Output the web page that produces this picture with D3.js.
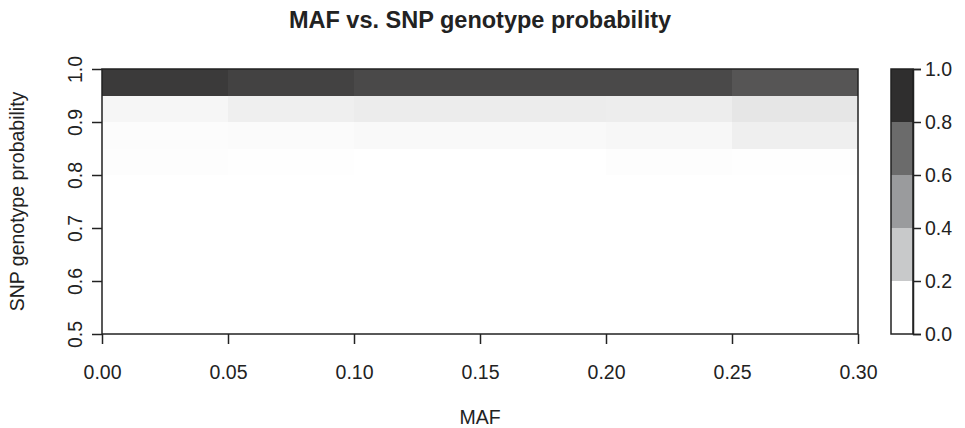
<!DOCTYPE html>
<html><head><meta charset="utf-8">
<script src="https://cdn.jsdelivr.net/npm/d3@7"></script>
<style>body{margin:0;background:#fff}svg{display:block;font-family:"Liberation Sans",Arial,sans-serif}</style>
</head><body><svg id="c" width="965" height="428"></svg>
<script>
const mafBins = [0.00, 0.05, 0.10, 0.15, 0.20, 0.25];
const probBins = [0.95, 0.90, 0.85, 0.80, 0.75, 0.70, 0.65, 0.60, 0.55, 0.50];
const cellValues = [
  [0.94, 0.90, 0.866, 0.866, 0.866, 0.81],
  [0.043, 0.077, 0.091, 0.091, 0.086, 0.12],
  [0.014, 0.019, 0.029, 0.029, 0.038, 0.077],
  [0.01, 0.005, 0.002, 0.002, 0.01, 0.005],
  [0,0,0,0,0,0],[0,0,0,0,0,0],[0,0,0,0,0,0],[0,0,0,0,0,0],[0,0,0,0,0,0],[0,0,0,0,0,0]
];
const xTicks = [0.00, 0.05, 0.10, 0.15, 0.20, 0.25, 0.30];
const yTicks = [0.5, 0.6, 0.7, 0.8, 0.9, 1.0];
const legendBreaks = [0.0, 0.2, 0.4, 0.6, 0.8, 1.0];
const legendColors = ["#ffffff", "#c8c9ca", "#9a9b9d", "#6b6b6b", "#2f2e2e"];

const FS = "19.5px";
const svg = d3.select("#c");
const L = 102, R = 858, T = 69, B = 334;
const x = d3.scaleLinear().domain([0, 0.3]).range([L, R]);
const y = d3.scaleLinear().domain([0.5, 1.0]).range([B, T]);
const col = d3.scaleLinear().domain([0, 1]).range(["#ffffff", "#2e2d2d"]).interpolate(d3.interpolateRgb);

const cells = [];
probBins.forEach((p, i) => mafBins.forEach((m, j) => cells.push({m, p, v: cellValues[i][j]})));
svg.append("g").selectAll("rect").data(cells).join("rect")
  .attr("x", d => x(d.m)).attr("y", d => y(d.p + 0.05))
  .attr("width", d => x(d.m + 0.05) - x(d.m)).attr("height", d => y(d.p) - y(d.p + 0.05))
  .attr("fill", d => col(d.v)).attr("shape-rendering", "crispEdges");

svg.append("rect").attr("x", L).attr("y", T).attr("width", R - L).attr("height", B - T)
  .attr("fill", "none").attr("stroke", "#222").attr("stroke-width", 1.5);

const fmt2 = d3.format(".2f"), fmt1 = d3.format(".1f");
const xa = svg.append("g").attr("transform", `translate(0,${B})`)
  .call(d3.axisBottom(x).tickValues(xTicks).tickFormat(fmt2).tickSize(10).tickPadding(0));
xa.select(".domain").remove();
xa.selectAll(".tick text").attr("y", 45).attr("dy", 0);
const ya = svg.append("g").attr("transform", `translate(${L},0)`)
  .call(d3.axisLeft(y).tickValues(yTicks).tickFormat(fmt1).tickSize(10).tickPadding(0));
ya.select(".domain").remove();
ya.selectAll(".tick text")
  .attr("x", 0).attr("y", 0).attr("dy", 0).attr("text-anchor", "middle")
  .attr("transform", `translate(${82 - L},0) rotate(-90)`);
[xa, ya].forEach(a => {
  a.selectAll("line").attr("stroke", "#222").attr("stroke-width", 1.5);
  a.selectAll("text").attr("fill", "#222").style("font-size", FS).style("font-family", "Liberation Sans, Arial, sans-serif");
});

// legend
const lx0 = 891, lx1 = 913;
const ly = d3.scaleLinear().domain([0, 1]).range([B, T]);
svg.append("g").selectAll("rect").data(legendColors).join("rect")
  .attr("x", lx0).attr("y", (d, i) => ly(legendBreaks[i + 1]))
  .attr("width", lx1 - lx0).attr("height", (d, i) => ly(legendBreaks[i]) - ly(legendBreaks[i + 1]))
  .attr("fill", d => d).attr("shape-rendering", "crispEdges");
svg.append("rect").attr("x", lx0).attr("y", T).attr("width", lx1 - lx0).attr("height", B - T)
  .attr("fill", "none").attr("stroke", "#222").attr("stroke-width", 1.5);
const la = svg.append("g").attr("transform", `translate(${lx1},0)`)
  .call(d3.axisRight(ly).tickValues(legendBreaks).tickFormat(fmt1).tickSize(8).tickPadding(4));
la.select(".domain").attr("stroke", "#222").attr("stroke-width", 1.5);
la.selectAll("line").attr("stroke", "#222").attr("stroke-width", 1.5);
la.selectAll("text").attr("fill", "#222").style("font-size", FS).style("font-family", "Liberation Sans, Arial, sans-serif");

svg.append("text").attr("x", 480).attr("y", 28).attr("text-anchor", "middle")
  .style("font-weight", "bold").style("font-size", "23.5px").attr("fill", "#222")
  .text("MAF vs. SNP genotype probability");
svg.append("text").attr("x", x(0.15)).attr("y", 424).attr("text-anchor", "middle")
  .style("font-size", FS).attr("fill", "#222").text("MAF");
svg.append("text").attr("transform", `translate(24,${(T + B) / 2}) rotate(-90)`).attr("text-anchor", "middle")
  .style("font-size", FS).attr("fill", "#222").text("SNP genotype probability");
</script></body></html>
